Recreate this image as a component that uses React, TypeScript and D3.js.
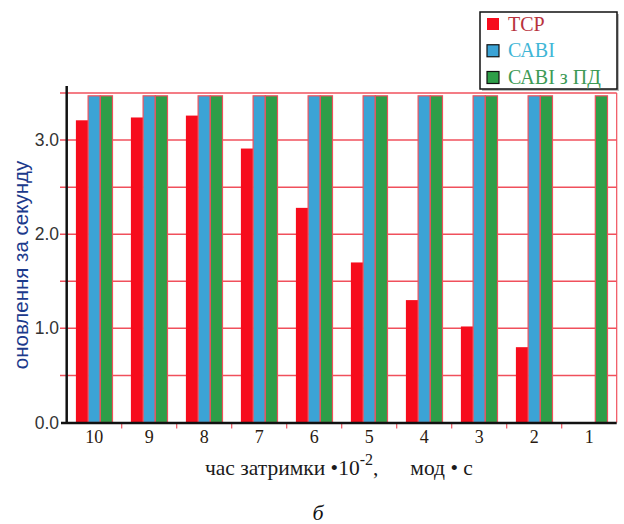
import { useEffect, useRef } from "react"
import * as d3 from "d3"

// categories along x (delay time)
const categories = ["10", "9", "8", "7", "6", "5", "4", "3", "2", "1"]
const seriesKeys = ["tcp", "cabi", "cabiPd"]
const seriesNames = ["TCP", "САВІ", "САВІ з ПД"]
// values, null = no bar
const tcpValues = [3.21, 3.24, 3.26, 2.91, 2.28, 1.7, 1.3, 1.02, 0.8, null]
const cabiValues = [3.47, 3.47, 3.47, 3.47, 3.47, 3.47, 3.47, 3.47, 3.47, null]
const cabiPdValues = [3.47, 3.47, 3.47, 3.47, 3.47, 3.47, 3.47, 3.47, 3.47, 3.47]
const yTicks = [0, 1, 2, 3]
const yGrid = [0.5, 1, 1.5, 2, 2.5, 3, 3.5]

const barColors = ["#f60c1c", "#3ba3d5", "#2e9e48"]
const legendTextColors = ["#b8323c", "#3fb6d6", "#3d9a55"]
const gridColor = "#f0505c"

export default function App() {
  const svgRef = useRef<SVGSVGElement>(null)

  useEffect(() => {
    if (!svgRef.current) return
    const svg = d3.select(svgRef.current)
    svg.selectAll("*").remove()

    const left = 66.7
    const right = 616.7
    const bottom = 422.5

    const x0 = d3.scaleBand().domain(categories).range([left, right]).padding(0)
    const off = 9.2
    const x1 = d3
      .scaleBand()
      .domain(seriesKeys)
      .range([off, x0.bandwidth() - off])
      .padding(0)
    const y = d3.scaleLinear().domain([0, 3.5]).range([bottom, 93])

    const table = categories.map((c, i) => ({
      cat: c,
      tcp: tcpValues[i],
      cabi: cabiValues[i],
      cabiPd: cabiPdValues[i],
    }))

    // gridlines
    svg
      .append("g")
      .selectAll("line")
      .data(yGrid)
      .join("line")
      .attr("x1", 60)
      .attr("x2", right)
      .attr("y1", (d) => y(d))
      .attr("y2", (d) => y(d))
      .attr("stroke", gridColor)
      .attr("stroke-width", 1.5)

    // right frame line
    svg
      .append("line")
      .attr("x1", right)
      .attr("x2", right)
      .attr("y1", y(3.5))
      .attr("y2", bottom)
      .attr("stroke", gridColor)
      .attr("stroke-width", 1.2)

    // bars
    const groups = svg
      .append("g")
      .selectAll("g")
      .data(table)
      .join("g")
      .attr("transform", (d) => `translate(${x0(d.cat)},0)`)

    groups
      .selectAll("rect")
      .data((d) =>
        seriesKeys.map((k, j) => ({ key: k, j, value: (d as any)[k] as number | null }))
      )
      .join("rect")
      .filter((d) => d.value !== null)
      .attr("x", (d) => x1(d.key)!)
      .attr("width", x1.bandwidth())
      .attr("y", (d) => y(d.value!))
      .attr("height", (d) => bottom - y(d.value!))
      .attr("fill", (d) => barColors[d.j])
      .attr("stroke", (d) => (d.j === 0 ? "none" : gridColor))
      .attr("stroke-width", 1.2)

    // x axis ticks (red, at category boundaries)
    svg
      .append("g")
      .selectAll("line")
      .data(categories.slice(1))
      .join("line")
      .attr("x1", (d) => x0(d)!)
      .attr("x2", (d) => x0(d)!)
      .attr("y1", bottom)
      .attr("y2", bottom + 6)
      .attr("stroke", gridColor)
      .attr("stroke-width", 1.2)

    // axes
    svg
      .append("line")
      .attr("x1", left)
      .attr("x2", left)
      .attr("y1", 86)
      .attr("y2", bottom + 1)
      .attr("stroke", "#111")
      .attr("stroke-width", 2.5)
    svg
      .append("line")
      .attr("x1", 61)
      .attr("x2", right)
      .attr("y1", bottom + 0.5)
      .attr("y2", bottom + 0.5)
      .attr("stroke", "#111")
      .attr("stroke-width", 2.5)

    // y tick labels
    svg
      .append("g")
      .selectAll("text")
      .data(yTicks)
      .join("text")
      .attr("x", 59)
      .attr("y", (d) => y(d) + 6)
      .attr("text-anchor", "end")
      .attr("font-family", "Liberation Sans, Arial, sans-serif")
      .attr("font-size", 17.5)
      .attr("fill", "#333")
      .text((d) => d3.format(".1f")(d))

    // x tick labels
    svg
      .append("g")
      .selectAll("text")
      .data(categories)
      .join("text")
      .attr("x", (d) => x0(d)! + x0.bandwidth() / 2)
      .attr("y", 443)
      .attr("text-anchor", "middle")
      .attr("font-family", "Liberation Serif, Times New Roman, serif")
      .attr("font-size", 18)
      .attr("fill", "#2a1a10")
      .text((d) => d)

    // y title
    svg
      .append("text")
      .attr("transform", "translate(28,265) rotate(-90)")
      .attr("text-anchor", "middle")
      .attr("font-family", "Liberation Sans, Arial, sans-serif")
      .attr("font-size", 20.5)
      .attr("fill", "#1c3a8c")
      .text("оновлення за секунду")

    // x title
    const xt = svg
      .append("text")
      .attr("x", 205)
      .attr("y", 475)
      .attr("font-family", "Liberation Serif, Times New Roman, serif")
      .attr("font-size", 21.5)
      .attr("fill", "#1a1a1a")
    xt.append("tspan").text("час затримки •10")
    xt.append("tspan").attr("dy", -10).attr("font-size", 16).text("-2")
    xt.append("tspan").attr("dy", 10).text(",")
    xt.append("tspan").attr("dx", 32).text("мод • с")

    // panel label
    svg
      .append("text")
      .attr("x", 318)
      .attr("y", 520)
      .attr("text-anchor", "middle")
      .attr("font-family", "Liberation Serif, Times New Roman, serif")
      .attr("font-style", "italic")
      .attr("font-size", 22)
      .attr("fill", "#111")
      .text("б")

    // legend
    const lg = svg.append("g")
    lg.append("rect")
      .attr("x", 482)
      .attr("y", 14)
      .attr("width", 137)
      .attr("height", 77)
      .attr("fill", "#bbb")
    lg.append("rect")
      .attr("x", 480)
      .attr("y", 12)
      .attr("width", 137)
      .attr("height", 77)
      .attr("fill", "#fff")
      .attr("stroke", "#111")
      .attr("stroke-width", 1.5)
    const rowY = d3.scalePoint().domain(seriesKeys).range([24, 77.5])
    const items = lg
      .selectAll("g.item")
      .data(seriesKeys)
      .join("g")
      .attr("class", "item")
      .attr("transform", (d) => `translate(0,${rowY(d)})`)
    items
      .append("rect")
      .attr("x", 487)
      .attr("y", -6)
      .attr("width", 12)
      .attr("height", 12)
      .attr("fill", (d, i) => barColors[i])
      .attr("stroke", (d, i) => (i === 0 ? "none" : "#111"))
      .attr("stroke-width", 1.2)
    items
      .append("text")
      .attr("x", 508)
      .attr("y", 6.5)
      .attr("font-family", "Liberation Serif, Times New Roman, serif")
      .attr("font-size", 20)
      .attr("fill", (d, i) => legendTextColors[i])
      .text((d, i) => seriesNames[i])
  }, [])

  return (
    <svg
      ref={svgRef}
      width={624}
      height={524}
      style={{ position: "absolute", left: 0, top: 0, background: "#fff" }}
    />
  )
}
